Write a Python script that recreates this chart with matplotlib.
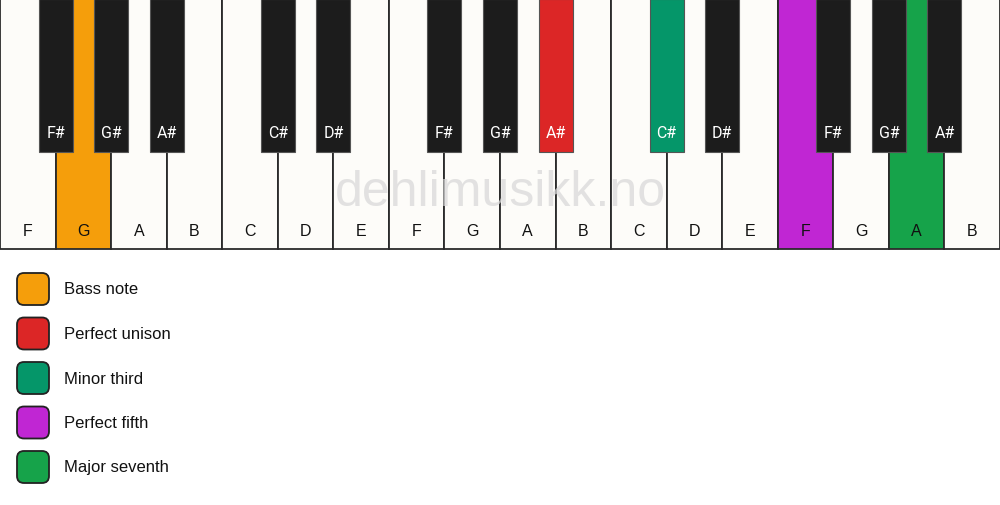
import matplotlib.pyplot as plt
from matplotlib.patches import Rectangle, FancyBboxPatch

plt.rcParams['font.family'] = ['Liberation Sans', 'DejaVu Sans']

# 白键与黑键
white_keys = ['F', 'G', 'A', 'B', 'C', 'D', 'E', 'F', 'G', 'A', 'B', 'C', 'D', 'E', 'F', 'G', 'A', 'B']
sharp_of = {'F': 'F#', 'G': 'G#', 'A': 'A#', 'C': 'C#', 'D': 'D#'}

# 高亮: 白键序号 -> 颜色, 黑键(左侧白键序号) -> 颜色
white_highlight = {1: '#F59E0B', 14: '#C026D3', 16: '#16A34A'}
black_highlight = {9: '#DC2626', 11: '#059669'}

legend_labels = ['Bass note', 'Perfect unison', 'Minor third', 'Perfect fifth', 'Major seventh']
legend_colors = ['#F59E0B', '#DC2626', '#059669', '#C026D3', '#16A34A']

W, H = 1000, 506
fig = plt.figure(figsize=(W / 100, H / 100), dpi=100)
ax = fig.add_axes([0, 0, 1, 1])
ax.set_xlim(0, W)
ax.set_ylim(H, 0)
ax.axis('off')

n = len(white_keys)
kw = W / n
kh = 250
bw, bh = 34, 153

# 白键
for i, name in enumerate(white_keys):
    fc = white_highlight.get(i, '#FDFCF9')
    ax.add_patch(Rectangle((i * kw, 0), kw, kh, facecolor=fc, edgecolor='#2a2a2a', linewidth=1.3, zorder=1))
    ax.text(i * kw + kw / 2, 231, name, ha='center', va='center', fontsize=11.5, color='#111111', zorder=4)

# 水印
ax.text(500, 193, 'dehlimusikk.no', ha='center', va='center', fontsize=36, color='#d9d9d9', alpha=0.75, zorder=2)

# 黑键
for i, name in enumerate(white_keys[:-1]):
    if name not in sharp_of:
        continue
    x = (i + 1) * kw - bw / 2
    fc = black_highlight.get(i, '#1c1c1c')
    ax.add_patch(Rectangle((x, 0), bw, bh, facecolor=fc, edgecolor='#555555', linewidth=0.8, zorder=3))
    ax.text(x + bw / 2, 133, sharp_of[name], ha='center', va='center', fontsize=11.5, color='white',
            family=['Roboto', 'DejaVu Sans'], zorder=4)

# 图例
for k, (lab, col) in enumerate(zip(legend_labels, legend_colors)):
    yc = 290 + k * 44.5
    ax.add_patch(FancyBboxPatch((17, yc - 16), 32, 32, boxstyle='round,pad=0,rounding_size=7',
                                facecolor=col, edgecolor='#222222', linewidth=1.3, zorder=3))
    ax.text(64, yc, lab, ha='left', va='center', fontsize=12, color='#111111')

plt.savefig('out.png', dpi=100)
